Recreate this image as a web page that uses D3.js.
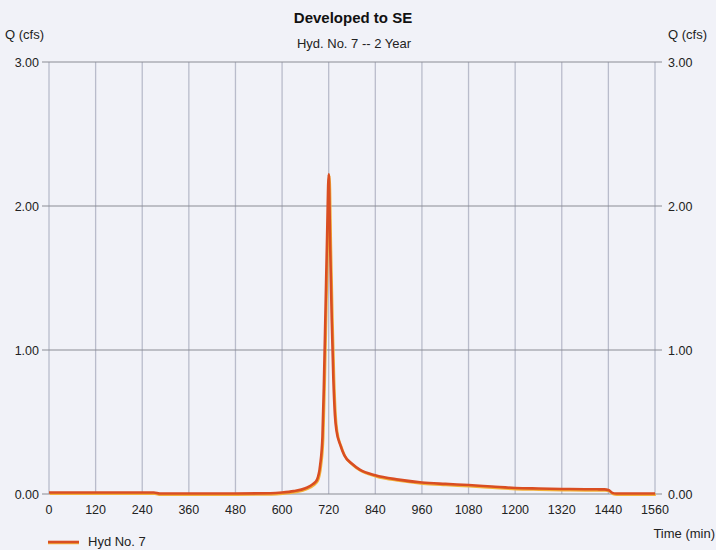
<!DOCTYPE html>
<html>
<head>
<meta charset="utf-8">
<script src="https://cdn.jsdelivr.net/npm/d3@7"></script>
<style>
  html, body { margin: 0; padding: 0; background: #f1f2f8; }
  svg { display: block; font-family: "Liberation Sans", Arial, sans-serif; }
</style>
</head>
<body>
<svg id="chart" width="716" height="550"></svg>
<script>
// ---- data ----
const title = "Developed to SE";
const subtitle = "Hyd. No. 7 -- 2 Year";
const yLabel = "Q (cfs)";
const xLabel = "Time (min)";
const seriesName = "Hyd No. 7";
const xTicks = [0, 120, 240, 360, 480, 600, 720, 840, 960, 1080, 1200, 1320, 1440, 1560];
const yTicks = [0, 1, 2, 3];
const timeMin = [0, 270, 285, 480, 570, 600, 630, 660, 680, 690, 698, 704, 708, 712, 716, 720,
                 724, 728, 732, 736, 740, 750, 760, 780, 800, 840, 900, 960, 1020, 1080, 1140,
                 1200, 1260, 1320, 1380, 1430, 1440, 1450, 1460, 1560];
const flowCfs = [0.01, 0.01, 0.003, 0.003, 0.005, 0.01, 0.02, 0.04, 0.07, 0.10, 0.20, 0.40, 0.80, 1.30, 1.80, 2.22,
                 1.70, 1.20, 0.80, 0.55, 0.44, 0.34, 0.27, 0.21, 0.17, 0.13, 0.10, 0.08, 0.07, 0.062, 0.052,
                 0.042, 0.038, 0.035, 0.033, 0.032, 0.028, 0.008, 0.003, 0.003];

// ---- layout ----
const svg = d3.select("#chart");
const mLeft = 49, mRight = 655, mTop = 62, mBottom = 494;
const x = d3.scaleLinear().domain([0, 1560]).range([mLeft, mRight]);
const y = d3.scaleLinear().domain([0, 3]).range([mBottom, mTop]);

// vertical grid
svg.append("g").selectAll("line").data(xTicks).join("line")
  .attr("x1", d => x(d)).attr("x2", d => x(d))
  .attr("y1", y(3)).attr("y2", y(0))
  .attr("stroke", "#b9bccb").attr("stroke-width", 1.3);

// horizontal grid (with tick stubs on both sides)
svg.append("g").selectAll("line").data(yTicks).join("line")
  .attr("x1", mLeft - 7).attr("x2", mRight + 7)
  .attr("y1", d => y(d)).attr("y2", d => y(d))
  .attr("stroke", "#8a8c94").attr("stroke-width", 1);

// y tick labels left / right
const fmt = d3.format(".2f");
svg.append("g").selectAll("text").data(yTicks).join("text")
  .attr("x", 39).attr("y", d => y(d) + 4.5)
  .attr("text-anchor", "end").attr("font-size", 12.5).attr("fill", "#222")
  .text(d => fmt(d));
svg.append("g").selectAll("text").data(yTicks).join("text")
  .attr("x", 668).attr("y", d => y(d) + 4.5)
  .attr("text-anchor", "start").attr("font-size", 12.5).attr("fill", "#222")
  .text(d => fmt(d));

// x tick labels
svg.append("g").selectAll("text").data(xTicks).join("text")
  .attr("x", d => x(d)).attr("y", 514)
  .attr("text-anchor", "middle").attr("font-size", 12.5).attr("fill", "#222")
  .text(d => d);

// titles
svg.append("text").attr("x", 353).attr("y", 23).attr("text-anchor", "middle")
  .attr("font-size", 15).attr("font-weight", "bold").attr("fill", "#111").text(title);
svg.append("text").attr("x", 354).attr("y", 48).attr("text-anchor", "middle")
  .attr("font-size", 13).attr("fill", "#222").text(subtitle);
svg.append("text").attr("x", 5).attr("y", 39).attr("font-size", 13).attr("fill", "#222").text(yLabel);
svg.append("text").attr("x", 668).attr("y", 39).attr("font-size", 13).attr("fill", "#222").text(yLabel);
svg.append("text").attr("x", 715).attr("y", 538).attr("text-anchor", "end")
  .attr("font-size", 13).attr("fill", "#222").text(xLabel);

// series
const pts = timeMin.map((t, i) => [t, flowCfs[i]]);
const line = d3.line().x(d => x(d[0])).y(d => y(d[1])).curve(d3.curveMonotoneX);
svg.append("path").datum(pts).attr("d", line)
  .attr("fill", "none").attr("stroke", "#f3b13a").attr("stroke-width", 2.5)
  .attr("transform", "translate(0.8,1.2)").attr("stroke-linejoin", "round");
svg.append("path").datum(pts).attr("d", line)
  .attr("fill", "none").attr("stroke", "#d94e22").attr("stroke-width", 2.6)
  .attr("stroke-linejoin", "round");

// legend
svg.append("line").attr("x1", 48).attr("x2", 79).attr("y1", 542).attr("y2", 542)
  .attr("stroke", "#f3b13a").attr("stroke-width", 2.5).attr("transform", "translate(0,1)");
svg.append("line").attr("x1", 48).attr("x2", 79).attr("y1", 542).attr("y2", 542)
  .attr("stroke", "#d94e22").attr("stroke-width", 2.6);
svg.append("text").attr("x", 88).attr("y", 546).attr("font-size", 13).attr("fill", "#222").text(seriesName);
</script>
</body>
</html>
